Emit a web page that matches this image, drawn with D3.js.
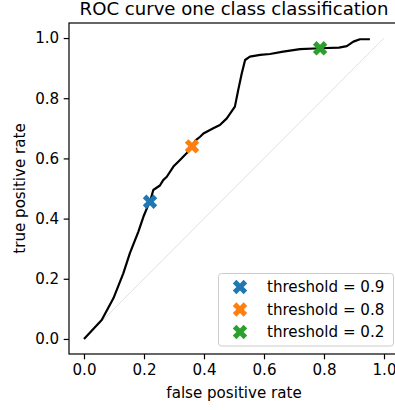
<!DOCTYPE html>
<html>
<head>
<meta charset="utf-8">
<script src="https://d3js.org/d3.v7.min.js"></script>
<style>
body { margin: 0; overflow: hidden; background: #fff; }
text { font-family: "DejaVu Sans", sans-serif; fill: #000; }
.tick text { font-size: 15.1px; }
.tick line { stroke: #000; stroke-width: 1.2px; }
</style>
</head>
<body>
<svg width="395" height="410"></svg>
<script>
// ROC curve
const fpr = [0, 0.059, 0.098, 0.131, 0.153, 0.181, 0.198, 0.214, 0.22, 0.231, 0.253, 0.264, 0.276,
  0.298, 0.32, 0.342, 0.359, 0.372, 0.387, 0.398, 0.431, 0.453, 0.476, 0.503, 0.514, 0.526, 0.537,
  0.553, 0.587, 0.62, 0.664, 0.72, 0.787, 0.85, 0.876, 0.898, 0.92, 0.953];
const tpr = [0, 0.063, 0.135, 0.218, 0.285, 0.356, 0.406, 0.445, 0.456, 0.495, 0.51, 0.528, 0.539,
  0.573, 0.595, 0.617, 0.639, 0.66, 0.672, 0.683, 0.7, 0.711, 0.733, 0.772, 0.827, 0.883, 0.927,
  0.938, 0.944, 0.947, 0.955, 0.963, 0.966, 0.968, 0.973, 0.988, 0.996, 0.996];

const thresholds = ['0.9', '0.8', '0.2'];
const markerFpr = [0.22, 0.36, 0.787];
const markerTpr = [0.456, 0.64, 0.966];
const colors = ['#1f77b4', '#ff7f0e', '#2ca02c'];

const ticks = [0, 0.2, 0.4, 0.6, 0.8, 1.0];

const svg = d3.select('svg');
const pLeft = 69, pRight = 399, pTop = 23, pBottom = 354;

const x = d3.scaleLinear().domain([-0.05, 1.05]).range([pLeft, pRight]);
const y = d3.scaleLinear().domain([-0.05, 1.05]).range([pBottom, pTop]);

// diagonal reference
svg.append('line')
  .attr('x1', x(0)).attr('y1', y(0))
  .attr('x2', x(1)).attr('y2', y(1))
  .attr('stroke', '#000').attr('stroke-opacity', 0.25)
  .attr('stroke-width', 0.5);

const line = d3.line().x(d => x(d[0])).y(d => y(d[1]));
svg.append('path')
  .datum(fpr.map((f, i) => [f, tpr[i]]))
  .attr('d', line)
  .attr('fill', 'none')
  .attr('stroke', '#000')
  .attr('stroke-width', 2.2)
  .attr('stroke-linejoin', 'round');

const xMark = d3.symbol().type(d3.symbolCross).size(130);

svg.selectAll('.mark')
  .data(thresholds)
  .enter().append('path')
    .attr('class', 'mark')
    .attr('d', xMark)
    .attr('fill', (d, i) => colors[i])
    .attr('transform', (d, i) => `translate(${x(markerFpr[i])},${y(markerTpr[i])}) rotate(45)`);

// axes
svg.append('g')
  .attr('transform', `translate(0,${pBottom})`)
  .call(d3.axisBottom(x).tickValues(ticks).tickFormat(d3.format('.1f')).tickSize(5.3).tickPadding(4.5));

svg.append('g')
  .attr('transform', `translate(${pLeft},0)`)
  .call(d3.axisLeft(y).tickValues(ticks).tickFormat(d3.format('.1f')).tickSize(5.3).tickPadding(4.5));

svg.selectAll('.domain').remove();

// spines
svg.append('rect')
  .attr('x', pLeft).attr('y', pTop)
  .attr('width', pRight - pLeft).attr('height', pBottom - pTop)
  .attr('fill', 'none').attr('stroke', '#000').attr('stroke-width', 1.2);

svg.append('text')
  .attr('x', (pLeft + pRight) / 2).attr('y', 15)
  .attr('text-anchor', 'middle')
  .style('font-size', '18.1px')
  .text('ROC curve one class classification');

svg.append('text')
  .attr('x', (pLeft + pRight) / 2).attr('y', 398)
  .attr('text-anchor', 'middle')
  .style('font-size', '15.1px')
  .text('false positive rate');

svg.append('text')
  .attr('transform', `translate(25,${(pTop + pBottom) / 2}) rotate(-90)`)
  .attr('text-anchor', 'middle')
  .style('font-size', '15.1px')
  .text('true positive rate');

// legend
const legend = svg.append('g').attr('transform', 'translate(218.5,273.5)');
legend.append('rect')
  .attr('width', 175).attr('height', 72.5)
  .attr('rx', 3)
  .attr('fill', '#fff').attr('fill-opacity', 0.8)
  .attr('stroke', '#ccc').attr('stroke-width', 1);

const items = legend.selectAll('.item')
  .data(thresholds)
  .enter().append('g')
    .attr('class', 'item')
    .attr('transform', (d, i) => `translate(0,${13.5 + i * 22.5})`);

items.append('path')
  .attr('d', xMark)
  .attr('fill', (d, i) => colors[i])
  .attr('transform', 'translate(21.5,0) rotate(45)');

items.append('text')
  .attr('x', 48.5).attr('dy', '0.36em')
  .style('font-size', '15.1px')
  .text(d => 'threshold = ' + d);
</script>
</body>
</html>
